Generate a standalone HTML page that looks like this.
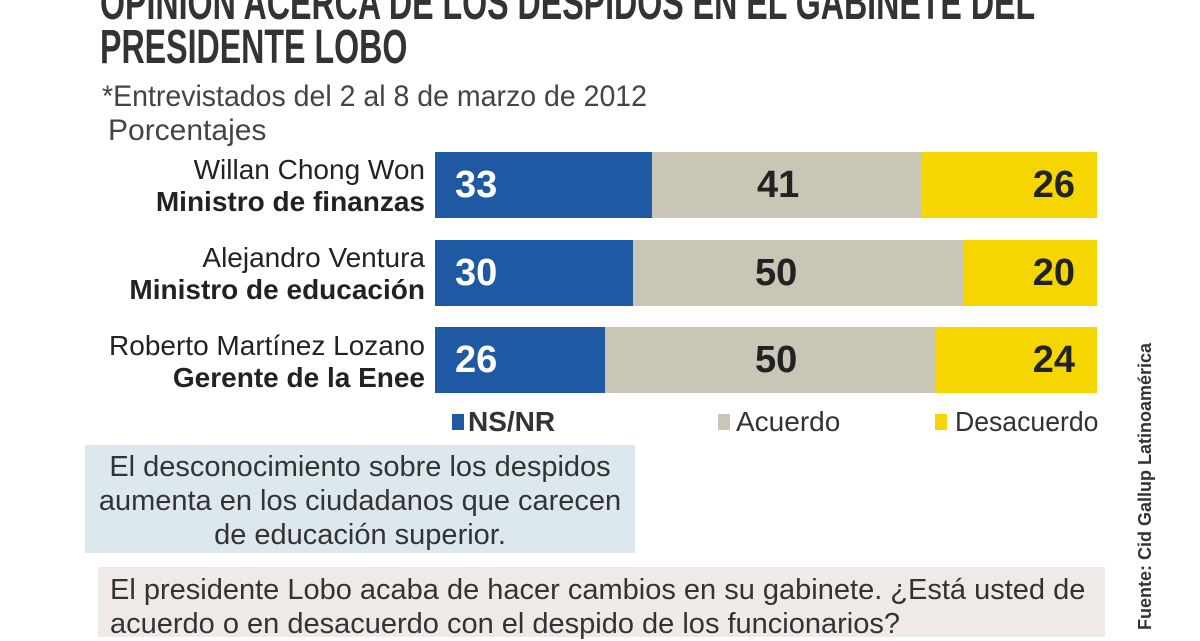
<!DOCTYPE html>
<html><head><meta charset="utf-8"><style>
body{margin:0;width:1200px;height:630px;overflow:hidden;background:#fff;font-family:"Liberation Sans",sans-serif;color:#222;position:relative}
.a{position:absolute;white-space:nowrap}
.t{font-size:48px;font-weight:bold;color:#333;transform:scaleX(0.67);transform-origin:0 0}
.bar{position:absolute;height:66px}
.n{position:absolute;font-size:38px;font-weight:bold;top:12px}
.lab{position:absolute;right:775px;text-align:right;font-size:28px;line-height:32px}
</style></head><body>
<div class="a t" style="left:100px;top:-24px">OPINIÓN ACERCA DE LOS DESPIDOS EN EL GABINETE DEL</div>
<div class="a t" style="left:100px;top:20px">PRESIDENTE LOBO</div>
<div class="a" style="left:102px;top:80px;font-size:30px;color:#444;transform:scaleX(0.95);transform-origin:0 0">*Entrevistados del 2 al 8 de marzo de 2012</div>
<div class="a" style="left:108px;top:114px;font-size:30px;color:#444">Porcentajes</div>

<div class="lab" style="top:154px">Willan Chong Won<br><b>Ministro de finanzas</b></div>
<div class="lab" style="top:242px">Alejandro Ventura<br><b>Ministro de educación</b></div>
<div class="lab" style="top:330px">Roberto Martínez Lozano<br><b>Gerente de la Enee</b></div>

<div class="bar" style="top:152px;left:435px;width:217px;background:#1f58a3"><span class="n" style="left:20px;color:#fff">33</span></div>
<div class="bar" style="top:152px;left:652px;width:270px;background:#c9c6b5"><span class="n" style="left:105px">41</span></div>
<div class="bar" style="top:152px;left:922px;width:175px;background:#f6d600"><span class="n" style="right:22px">26</span></div>

<div class="bar" style="top:240px;left:435px;width:198px;background:#1f58a3"><span class="n" style="left:20px;color:#fff">30</span></div>
<div class="bar" style="top:240px;left:633px;width:330px;background:#c9c6b5"><span class="n" style="left:122px">50</span></div>
<div class="bar" style="top:240px;left:963px;width:134px;background:#f6d600"><span class="n" style="right:22px">20</span></div>

<div class="bar" style="top:327px;left:435px;width:170px;background:#1f58a3"><span class="n" style="left:20px;color:#fff">26</span></div>
<div class="bar" style="top:327px;left:605px;width:330px;background:#c9c6b5"><span class="n" style="left:150px">50</span></div>
<div class="bar" style="top:327px;left:935px;width:162px;background:#f6d600"><span class="n" style="right:22px">24</span></div>

<div class="a" style="left:452px;top:414px;width:12px;height:16px;background:#1f58a3"></div>
<div class="a" style="left:468px;top:406px;font-size:28px;font-weight:bold;color:#333">NS/NR</div>
<div class="a" style="left:718px;top:414px;width:12px;height:16px;background:#c9c6b5"></div>
<div class="a" style="left:736px;top:406px;font-size:28px;color:#333">Acuerdo</div>
<div class="a" style="left:935px;top:414px;width:12px;height:16px;background:#f6d600"></div>
<div class="a" style="left:955px;top:406px;font-size:28px;color:#333;transform:scaleX(0.95);transform-origin:0 0">Desacuerdo</div>

<div class="a" style="left:85px;top:445px;width:550px;height:108px;background:#dce8ee"></div>
<div class="a" style="left:85px;top:450px;width:550px;text-align:center;font-size:29px;line-height:34px;color:#333;white-space:normal">El desconocimiento sobre los despidos aumenta en los ciudadanos que carecen<br>de educación superior.</div>

<div class="a" style="left:98px;top:567px;width:1007px;height:70px;background:#efeae7"></div>
<div class="a" style="left:110px;top:573px;font-size:29px;line-height:34px;color:#333">El presidente Lobo acaba de hacer cambios en su gabinete. ¿Está usted de<br>acuerdo o en desacuerdo con el despido de los funcionarios?</div>

<div class="a" style="left:1135px;top:630px;transform:rotate(-90deg);transform-origin:0 0;font-size:18px;font-weight:bold;color:#333">Fuente: Cid Gallup Latinoamérica</div>
</body></html>
